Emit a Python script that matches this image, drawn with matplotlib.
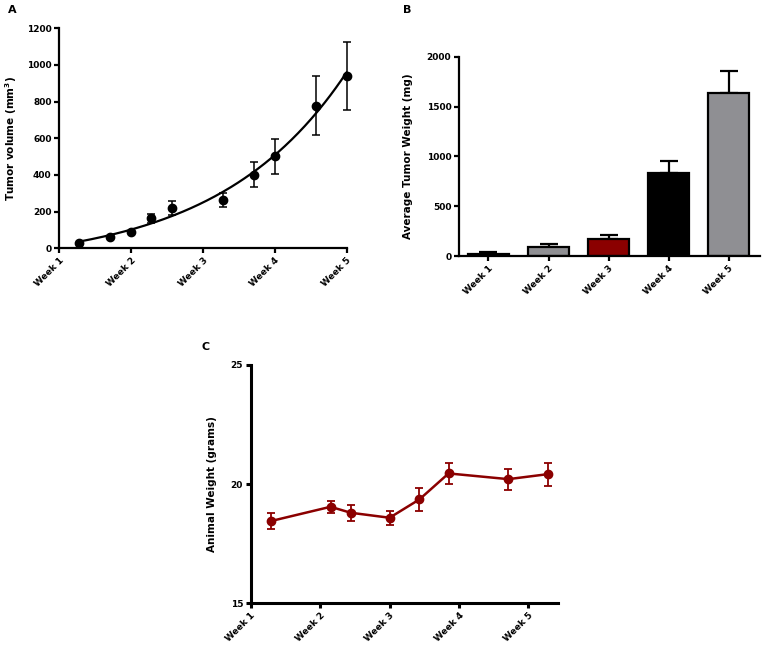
import numpy as np
import matplotlib
matplotlib.use("Agg")
import matplotlib.pyplot as plt

plt.rcParams['font.family'] = ['DejaVu Sans']
plt.rcParams['font.weight'] = 'bold'

# Panel A data
a_x = [1.28, 1.71, 2.0, 2.28, 2.57, 3.285, 3.71, 4.0, 4.57, 5.0]
a_y = [30, 60, 91, 164, 220, 263, 402, 503, 778, 940]
a_err = [0, 0, 0, 25, 38, 40, 68, 95, 160, 185]
week_labels = ['Week 1', 'Week 2', 'Week 3', 'Week 4', 'Week 5']

# Panel B data
b_vals = [25, 88, 167, 837, 1640]
b_err = [12, 30, 45, 120, 215]
b_colors = ['#000000', '#8f8f93', '#8b0000', '#000000', '#8f8f93']

# Panel C data
c_x = [1.29, 2.15, 2.44, 3.0, 3.43, 3.85, 4.71, 5.28]
c_y = [18.45, 19.05, 18.80, 18.59, 19.36, 20.45, 20.21, 20.42]
c_err = [0.33, 0.25, 0.33, 0.30, 0.48, 0.45, 0.44, 0.48]

W, H = 764, 662
fig = plt.figure(figsize=(W / 100, H / 100), dpi=100)

TICK_FS = 6.5
WEEK_FS = 8.3
LAB_FS = 7.5

def style(ax, lw=1.6):
    for s in ['top', 'right']:
        ax.spines[s].set_visible(False)
    for s in ['left', 'bottom']:
        ax.spines[s].set_linewidth(lw)
    ax.tick_params(axis='both', width=lw, length=3.5, labelsize=TICK_FS, pad=2)
    for lab in ax.get_yticklabels():
        lab.set_fontweight('bold')

def exp_fit(x, y):
    # least squares fit of y = a + b*exp(k*x), scanning k
    x = np.asarray(x, float)
    y = np.asarray(y, float)
    best = None
    for k in np.linspace(0.05, 2.0, 400):
        M = np.column_stack([np.ones_like(x), np.exp(k * x)])
        coef, *_ = np.linalg.lstsq(M, y, rcond=None)
        sse = np.sum((M @ coef - y) ** 2)
        if best is None or sse < best[0]:
            best = (sse, k, coef)
    _, k, coef = best
    return lambda t: coef[0] + coef[1] * np.exp(k * t)

# ---------- Panel A ----------
axA = fig.add_axes([59.3 / W, 1 - 248.3 / H, (346.5 - 59.3) / W, (248.3 - 28.3) / H])
f = exp_fit(a_x, a_y)
xs = np.linspace(min(a_x), max(a_x), 200)
axA.plot(xs, f(xs), color='black', lw=1.6, clip_on=False)
axA.errorbar(a_x, a_y, yerr=a_err, fmt='o', color='black', ms=6, capsize=3,
             elinewidth=1.1, capthick=1.1, clip_on=False)
axA.set_xlim(1, 5)
axA.set_ylim(0, 1200)
axA.set_yticks(range(0, 1201, 200))
axA.set_xticks([1, 2, 3, 4, 5])
axA.set_xticklabels(week_labels, rotation=45, ha='right', rotation_mode='anchor',
                    fontsize=WEEK_FS, fontweight='bold')
axA.set_ylabel('Tumor volume (mm$^{\\mathbf{3}}$)', fontsize=LAB_FS, fontweight='bold', labelpad=6)
style(axA)
fig.text(8 / W, 1 - 10 / H, 'A', fontsize=8, fontweight='bold', ha='left', va='center')

# ---------- Panel B ----------
axB = fig.add_axes([459 / W, 1 - 256 / H, (760 - 459) / W, (256 - 56.7) / H])
bx = np.arange(len(b_vals))
axB.bar(bx, b_vals, width=0.68, color=b_colors, edgecolor='black', linewidth=1.6, zorder=2)
axB.errorbar(bx, b_vals, yerr=[np.zeros(len(b_err)), b_err], fmt='none', ecolor='black',
             elinewidth=1.6, capsize=6.5, capthick=1.6, zorder=1)
axB.set_xlim(-0.49, 4.52)
axB.set_ylim(0, 2000)
axB.set_yticks(range(0, 2001, 500))
axB.set_xticks(bx)
axB.set_xticklabels(week_labels, rotation=45, ha='right', rotation_mode='anchor',
                    fontsize=WEEK_FS, fontweight='bold')
axB.set_ylabel('Average Tumor Weight (mg)', fontsize=LAB_FS, fontweight='bold', labelpad=10)
style(axB)
fig.text(403 / W, 1 - 10 / H, 'B', fontsize=8, fontweight='bold', ha='left', va='center')

# ---------- Panel C ----------
axC = fig.add_axes([250.7 / W, 1 - 603.3 / H, (558.3 - 250.7) / W, (603.3 - 365) / H])
red = '#8b0000'
axC.errorbar(c_x, c_y, yerr=c_err, fmt='-o', color=red, ms=6, lw=1.8, capsize=2.8,
             elinewidth=1.3, capthick=1.3)
axC.set_xlim(1, 5.43)
axC.set_ylim(15, 25)
axC.set_yticks([15, 20, 25])
axC.set_xticks([1, 2, 3, 4, 5])
axC.set_xticklabels(week_labels, rotation=45, ha='right', rotation_mode='anchor',
                    fontsize=WEEK_FS, fontweight='bold')
axC.set_ylabel('Animal Weight (grams)', fontsize=LAB_FS, fontweight='bold', labelpad=10)
style(axC, lw=2.2)
fig.text(202 / W, 1 - 347 / H, 'C', fontsize=8, fontweight='bold', ha='left', va='center')

fig.savefig('out.png', dpi=100)
